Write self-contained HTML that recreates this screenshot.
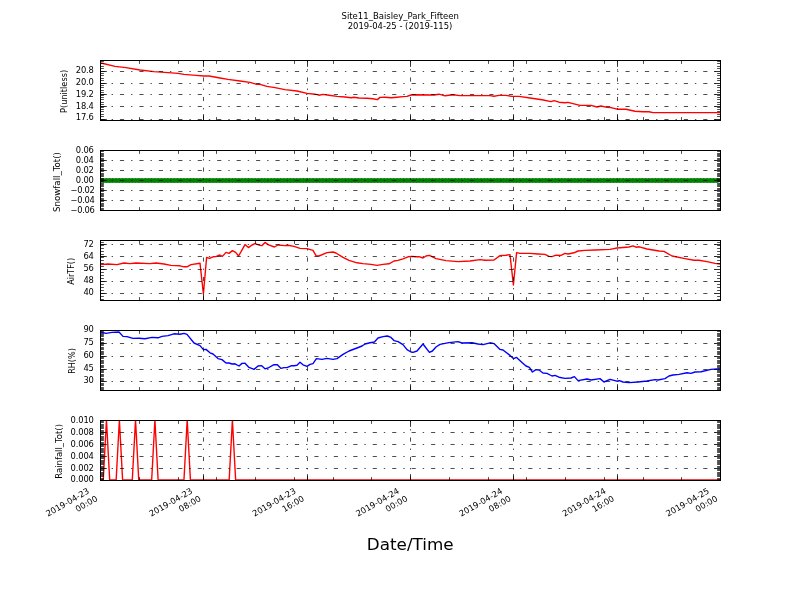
<!DOCTYPE html>
<html><head><meta charset="utf-8"><title>Site11_Baisley_Park_Fifteen</title>
<style>html,body{margin:0;padding:0;background:#fff}svg{display:block}</style></head>
<body>
<svg width="800" height="600" viewBox="0 0 800 600" font-family="'DejaVu Sans', 'Liberation Sans', sans-serif" font-size="8.33" fill="#000">
<rect width="800" height="600" fill="#fff"/>
<defs>
<clipPath id="c0"><rect x="100" y="60" width="621" height="61"/></clipPath>
<clipPath id="c1"><rect x="100" y="150" width="621" height="61"/></clipPath>
<clipPath id="c2"><rect x="100" y="240" width="621" height="61"/></clipPath>
<clipPath id="c3"><rect x="100" y="330" width="621" height="61"/></clipPath>
<clipPath id="c4"><rect x="100" y="420" width="621" height="61"/></clipPath>
</defs>
<g id="ax0">
<path d="M100.50,62.60 L101.00,63.00 L115.00,66.40 L126.00,67.60 L140.00,70.00 L154.00,71.60 L168.00,72.60 L178.00,73.40 L184.00,74.40 L196.00,75.40 L204.00,76.00 L209.00,76.00 L220.00,78.00 L228.00,79.40 L240.00,81.00 L250.00,82.40 L256.00,84.20 L260.00,84.40 L267.00,86.40 L275.00,87.60 L285.00,89.60 L297.00,91.00 L307.00,93.40 L315.00,94.20 L319.00,95.20 L323.00,94.40 L329.00,95.20 L337.00,96.40 L345.00,97.00 L351.00,97.80 L354.00,97.20 L359.00,98.00 L367.00,98.20 L373.00,98.80 L377.40,99.60 L380.00,97.40 L385.00,97.20 L391.00,97.80 L397.00,97.20 L403.00,96.60 L407.00,96.40 L411.00,95.00 L415.00,94.80 L434.00,95.00 L439.00,94.20 L445.00,95.80 L453.00,94.80 L460.00,95.60 L490.00,95.60 L494.00,96.20 L499.00,95.40 L506.00,95.40 L512.00,96.40 L519.00,96.40 L530.00,98.00 L542.00,99.80 L551.00,101.60 L554.00,100.60 L559.00,102.20 L565.00,102.80 L568.00,102.40 L580.00,105.40 L591.00,105.40 L597.00,107.00 L601.00,106.00 L607.00,107.40 L611.00,107.60 L617.00,109.20 L626.00,109.20 L635.00,111.20 L643.00,111.80 L649.00,111.80 L653.00,112.60 L720.00,112.60" fill="none" stroke="#ff0000" stroke-width="1.39" stroke-linejoin="round" clip-path="url(#c0)"/>
<path d="M100.5,71.5 H720 M100.5,83.5 H720 M100.5,94.5 H720 M100.5,106.5 H720 M100.5,119.5 H720 M203.5,120.5 V60.5 M307.5,120.5 V60.5 M410.5,120.5 V60.5 M513.5,120.5 V60.5 M617.5,120.5 V60.5" stroke="#000" stroke-width="0.694" stroke-dasharray="4.167,6.944,1.389,6.944" fill="none"/>
<path d="M100.5,71.5 h6.30 M720.5,71.5 h-6.30 M100.5,83.5 h6.30 M720.5,83.5 h-6.30 M100.5,94.5 h6.30 M720.5,94.5 h-6.30 M100.5,106.5 h6.30 M720.5,106.5 h-6.30 M100.5,119.5 h6.30 M720.5,119.5 h-6.30 M100.5,120.5 v-6.30 M100.5,60.5 v6.30 M203.5,120.5 v-6.30 M203.5,60.5 v6.30 M307.5,120.5 v-6.30 M307.5,60.5 v6.30 M410.5,120.5 v-6.30 M410.5,60.5 v6.30 M513.5,120.5 v-6.30 M513.5,60.5 v6.30 M617.5,120.5 v-6.30 M617.5,60.5 v6.30 M720.5,120.5 v-6.30 M720.5,60.5 v6.30" stroke="#000" stroke-width="0.8" fill="none"/>
<path d="M100.5,116.5 h3.40 M720.5,116.5 h-3.40 M100.5,114.5 h3.40 M720.5,114.5 h-3.40 M100.5,111.5 h3.40 M720.5,111.5 h-3.40 M100.5,109.5 h3.40 M720.5,109.5 h-3.40 M100.5,107.5 h3.40 M720.5,107.5 h-3.40 M100.5,104.5 h3.40 M720.5,104.5 h-3.40 M100.5,102.5 h3.40 M720.5,102.5 h-3.40 M100.5,99.5 h3.40 M720.5,99.5 h-3.40 M100.5,97.5 h3.40 M720.5,97.5 h-3.40 M100.5,95.5 h3.40 M720.5,95.5 h-3.40 M100.5,92.5 h3.40 M720.5,92.5 h-3.40 M100.5,90.5 h3.40 M720.5,90.5 h-3.40 M100.5,87.5 h3.40 M720.5,87.5 h-3.40 M100.5,85.5 h3.40 M720.5,85.5 h-3.40 M100.5,80.5 h3.40 M720.5,80.5 h-3.40 M100.5,78.5 h3.40 M720.5,78.5 h-3.40 M100.5,75.5 h3.40 M720.5,75.5 h-3.40 M100.5,73.5 h3.40 M720.5,73.5 h-3.40 M100.5,68.5 h3.40 M720.5,68.5 h-3.40 M100.5,66.5 h3.40 M720.5,66.5 h-3.40 M100.5,63.5 h3.40 M720.5,63.5 h-3.40 M100.5,61.5 h3.40 M720.5,61.5 h-3.40 M139.5,120.5 v-3.40 M139.5,60.5 v3.40 M178.5,120.5 v-3.40 M178.5,60.5 v3.40 M216.5,120.5 v-3.40 M216.5,60.5 v3.40 M255.5,120.5 v-3.40 M255.5,60.5 v3.40 M294.5,120.5 v-3.40 M294.5,60.5 v3.40 M333.5,120.5 v-3.40 M333.5,60.5 v3.40 M371.5,120.5 v-3.40 M371.5,60.5 v3.40 M449.5,120.5 v-3.40 M449.5,60.5 v3.40 M488.5,120.5 v-3.40 M488.5,60.5 v3.40 M526.5,120.5 v-3.40 M526.5,60.5 v3.40 M565.5,120.5 v-3.40 M565.5,60.5 v3.40 M604.5,120.5 v-3.40 M604.5,60.5 v3.40 M643.5,120.5 v-3.40 M643.5,60.5 v3.40 M681.5,120.5 v-3.40 M681.5,60.5 v3.40" stroke="#000" stroke-width="0.694" fill="none"/>
<rect x="100.5" y="60.5" width="620" height="60" fill="none" stroke="#000" stroke-width="1"/>
<text x="93.80" y="72.80" text-anchor="end" letter-spacing="-0.12">20.8</text>
<text x="93.80" y="84.80" text-anchor="end" letter-spacing="-0.12">20.0</text>
<text x="93.80" y="96.80" text-anchor="end" letter-spacing="-0.12">19.2</text>
<text x="93.80" y="108.80" text-anchor="end" letter-spacing="-0.12">18.4</text>
<text x="93.80" y="120.40" text-anchor="end" letter-spacing="-0.12">17.6</text>
<text transform="translate(67.2,91.4) rotate(-90)" text-anchor="middle" font-size="8.20">P(unitless)</text>
</g>
<g id="ax1">
<g clip-path="url(#c1)"><path d="M100,180.5 H720" stroke="#008000" stroke-width="4.86" stroke-linecap="round" stroke-dasharray="0,3.2292" fill="none"/><path d="M100,180.5 H720" stroke="#008000" stroke-width="3.6" fill="none"/></g>
<path d="M100.5,160.5 H720 M100.5,170.5 H720 M100.5,180.5 H720 M100.5,190.5 H720 M100.5,200.5 H720 M203.5,210.5 V150.5 M307.5,210.5 V150.5 M410.5,210.5 V150.5 M513.5,210.5 V150.5 M617.5,210.5 V150.5" stroke="#000" stroke-width="0.694" stroke-dasharray="4.167,6.944,1.389,6.944" fill="none"/>
<path d="M100.5,150.5 h6.30 M720.5,150.5 h-6.30 M100.5,160.5 h6.30 M720.5,160.5 h-6.30 M100.5,170.5 h6.30 M720.5,170.5 h-6.30 M100.5,180.5 h6.30 M720.5,180.5 h-6.30 M100.5,190.5 h6.30 M720.5,190.5 h-6.30 M100.5,200.5 h6.30 M720.5,200.5 h-6.30 M100.5,210.5 h6.30 M720.5,210.5 h-6.30 M100.5,210.5 v-6.30 M100.5,150.5 v6.30 M203.5,210.5 v-6.30 M203.5,150.5 v6.30 M307.5,210.5 v-6.30 M307.5,150.5 v6.30 M410.5,210.5 v-6.30 M410.5,150.5 v6.30 M513.5,210.5 v-6.30 M513.5,150.5 v6.30 M617.5,210.5 v-6.30 M617.5,150.5 v6.30 M720.5,210.5 v-6.30 M720.5,150.5 v6.30" stroke="#000" stroke-width="0.8" fill="none"/>
<path d="M100.5,209.5 h3.40 M720.5,209.5 h-3.40 M100.5,208.5 h3.40 M720.5,208.5 h-3.40 M100.5,206.5 h3.40 M720.5,206.5 h-3.40 M100.5,205.5 h3.40 M720.5,205.5 h-3.40 M100.5,204.5 h3.40 M720.5,204.5 h-3.40 M100.5,203.5 h3.40 M720.5,203.5 h-3.40 M100.5,201.5 h3.40 M720.5,201.5 h-3.40 M100.5,199.5 h3.40 M720.5,199.5 h-3.40 M100.5,198.5 h3.40 M720.5,198.5 h-3.40 M100.5,196.5 h3.40 M720.5,196.5 h-3.40 M100.5,195.5 h3.40 M720.5,195.5 h-3.40 M100.5,194.5 h3.40 M720.5,194.5 h-3.40 M100.5,193.5 h3.40 M720.5,193.5 h-3.40 M100.5,191.5 h3.40 M720.5,191.5 h-3.40 M100.5,189.5 h3.40 M720.5,189.5 h-3.40 M100.5,188.5 h3.40 M720.5,188.5 h-3.40 M100.5,186.5 h3.40 M720.5,186.5 h-3.40 M100.5,185.5 h3.40 M720.5,185.5 h-3.40 M100.5,184.5 h3.40 M720.5,184.5 h-3.40 M100.5,183.5 h3.40 M720.5,183.5 h-3.40 M100.5,181.5 h3.40 M720.5,181.5 h-3.40 M100.5,179.5 h3.40 M720.5,179.5 h-3.40 M100.5,178.5 h3.40 M720.5,178.5 h-3.40 M100.5,176.5 h3.40 M720.5,176.5 h-3.40 M100.5,175.5 h3.40 M720.5,175.5 h-3.40 M100.5,174.5 h3.40 M720.5,174.5 h-3.40 M100.5,173.5 h3.40 M720.5,173.5 h-3.40 M100.5,171.5 h3.40 M720.5,171.5 h-3.40 M100.5,169.5 h3.40 M720.5,169.5 h-3.40 M100.5,168.5 h3.40 M720.5,168.5 h-3.40 M100.5,166.5 h3.40 M720.5,166.5 h-3.40 M100.5,165.5 h3.40 M720.5,165.5 h-3.40 M100.5,164.5 h3.40 M720.5,164.5 h-3.40 M100.5,163.5 h3.40 M720.5,163.5 h-3.40 M100.5,161.5 h3.40 M720.5,161.5 h-3.40 M100.5,159.5 h3.40 M720.5,159.5 h-3.40 M100.5,158.5 h3.40 M720.5,158.5 h-3.40 M100.5,156.5 h3.40 M720.5,156.5 h-3.40 M100.5,155.5 h3.40 M720.5,155.5 h-3.40 M100.5,154.5 h3.40 M720.5,154.5 h-3.40 M100.5,153.5 h3.40 M720.5,153.5 h-3.40 M100.5,151.5 h3.40 M720.5,151.5 h-3.40 M139.5,210.5 v-3.40 M139.5,150.5 v3.40 M178.5,210.5 v-3.40 M178.5,150.5 v3.40 M216.5,210.5 v-3.40 M216.5,150.5 v3.40 M255.5,210.5 v-3.40 M255.5,150.5 v3.40 M294.5,210.5 v-3.40 M294.5,150.5 v3.40 M333.5,210.5 v-3.40 M333.5,150.5 v3.40 M371.5,210.5 v-3.40 M371.5,150.5 v3.40 M449.5,210.5 v-3.40 M449.5,150.5 v3.40 M488.5,210.5 v-3.40 M488.5,150.5 v3.40 M526.5,210.5 v-3.40 M526.5,150.5 v3.40 M565.5,210.5 v-3.40 M565.5,150.5 v3.40 M604.5,210.5 v-3.40 M604.5,150.5 v3.40 M643.5,210.5 v-3.40 M643.5,150.5 v3.40 M681.5,210.5 v-3.40 M681.5,150.5 v3.40" stroke="#000" stroke-width="0.694" fill="none"/>
<rect x="100.5" y="150.5" width="620" height="60" fill="none" stroke="#000" stroke-width="1"/>
<text x="93.80" y="152.90" text-anchor="end" letter-spacing="-0.12">0.06</text>
<text x="93.80" y="162.90" text-anchor="end" letter-spacing="-0.12">0.04</text>
<text x="93.80" y="172.90" text-anchor="end" letter-spacing="-0.12">0.02</text>
<text x="93.80" y="182.90" text-anchor="end" letter-spacing="-0.12">0.00</text>
<text x="94.60" y="192.90" text-anchor="end" letter-spacing="-0.3">−0.02</text>
<text x="94.60" y="202.90" text-anchor="end" letter-spacing="-0.3">−0.04</text>
<text x="94.60" y="212.90" text-anchor="end" letter-spacing="-0.3">−0.06</text>
<text transform="translate(60.2,182.0) rotate(-90)" text-anchor="middle" font-size="8.65">Snowfall_Tot()</text>
</g>
<g id="ax2">
<path d="M100.50,264.60 L108.00,264.00 L117.00,264.60 L124.00,263.00 L130.00,263.60 L136.00,263.00 L150.00,263.60 L156.00,263.00 L164.00,264.00 L171.00,265.40 L180.00,265.80 L184.00,266.80 L187.00,266.80 L191.00,264.60 L200.00,263.20 L203.40,294.00 L206.60,257.40 L209.60,258.40 L213.00,256.80 L216.00,256.60 L219.60,255.00 L222.40,256.40 L226.00,252.40 L229.00,253.40 L232.40,250.60 L235.60,252.40 L238.60,256.00 L245.00,244.60 L248.40,247.60 L252.00,245.00 L255.00,243.60 L260.00,245.40 L262.00,245.60 L265.00,242.40 L268.00,244.60 L274.40,247.00 L278.00,245.00 L285.00,245.60 L288.00,245.20 L294.00,246.40 L300.00,248.40 L307.00,248.60 L313.00,250.40 L316.00,255.60 L319.00,256.00 L327.00,252.60 L333.00,252.00 L336.00,253.00 L343.00,257.40 L349.00,260.40 L357.00,262.80 L363.00,263.60 L371.00,264.40 L377.00,265.40 L383.00,264.40 L389.00,263.80 L394.00,261.00 L398.00,260.40 L403.00,258.80 L408.00,256.80 L412.00,256.40 L415.00,256.80 L419.00,256.60 L423.00,258.00 L426.00,256.00 L429.40,255.40 L436.00,258.60 L446.00,260.60 L458.00,261.60 L470.00,261.00 L480.00,259.60 L485.00,260.20 L494.00,260.00 L500.00,255.60 L506.00,255.20 L510.00,254.60 L513.40,285.00 L516.60,252.60 L520.00,253.40 L530.00,253.40 L538.00,254.00 L545.00,254.40 L549.00,256.40 L552.00,256.60 L556.00,255.20 L561.00,255.40 L565.00,253.40 L568.00,254.00 L574.00,252.80 L578.00,251.00 L585.00,250.40 L595.00,250.00 L610.00,249.40 L617.00,248.00 L629.00,247.00 L633.00,245.80 L636.00,247.20 L639.40,246.80 L647.00,249.00 L659.00,251.00 L664.00,251.40 L672.00,256.00 L685.00,258.60 L694.00,260.20 L699.00,260.20 L707.00,261.60 L715.00,263.40 L720.00,264.00" fill="none" stroke="#ff0000" stroke-width="1.39" stroke-linejoin="round" clip-path="url(#c2)"/>
<path d="M100.5,244.5 H720 M100.5,256.5 H720 M100.5,269.5 H720 M100.5,281.5 H720 M100.5,293.5 H720 M203.5,300.5 V240.5 M307.5,300.5 V240.5 M410.5,300.5 V240.5 M513.5,300.5 V240.5 M617.5,300.5 V240.5" stroke="#000" stroke-width="0.694" stroke-dasharray="4.167,6.944,1.389,6.944" fill="none"/>
<path d="M100.5,244.5 h6.30 M720.5,244.5 h-6.30 M100.5,256.5 h6.30 M720.5,256.5 h-6.30 M100.5,269.5 h6.30 M720.5,269.5 h-6.30 M100.5,281.5 h6.30 M720.5,281.5 h-6.30 M100.5,293.5 h6.30 M720.5,293.5 h-6.30 M100.5,300.5 v-6.30 M100.5,240.5 v6.30 M203.5,300.5 v-6.30 M203.5,240.5 v6.30 M307.5,300.5 v-6.30 M307.5,240.5 v6.30 M410.5,300.5 v-6.30 M410.5,240.5 v6.30 M513.5,300.5 v-6.30 M513.5,240.5 v6.30 M617.5,300.5 v-6.30 M617.5,240.5 v6.30 M720.5,300.5 v-6.30 M720.5,240.5 v6.30" stroke="#000" stroke-width="0.8" fill="none"/>
<path d="M100.5,299.5 h3.40 M720.5,299.5 h-3.40 M100.5,296.5 h3.40 M720.5,296.5 h-3.40 M100.5,290.5 h3.40 M720.5,290.5 h-3.40 M100.5,287.5 h3.40 M720.5,287.5 h-3.40 M100.5,284.5 h3.40 M720.5,284.5 h-3.40 M100.5,278.5 h3.40 M720.5,278.5 h-3.40 M100.5,275.5 h3.40 M720.5,275.5 h-3.40 M100.5,272.5 h3.40 M720.5,272.5 h-3.40 M100.5,266.5 h3.40 M720.5,266.5 h-3.40 M100.5,263.5 h3.40 M720.5,263.5 h-3.40 M100.5,260.5 h3.40 M720.5,260.5 h-3.40 M100.5,257.5 h3.40 M720.5,257.5 h-3.40 M100.5,254.5 h3.40 M720.5,254.5 h-3.40 M100.5,251.5 h3.40 M720.5,251.5 h-3.40 M100.5,248.5 h3.40 M720.5,248.5 h-3.40 M100.5,245.5 h3.40 M720.5,245.5 h-3.40 M100.5,242.5 h3.40 M720.5,242.5 h-3.40 M139.5,300.5 v-3.40 M139.5,240.5 v3.40 M178.5,300.5 v-3.40 M178.5,240.5 v3.40 M216.5,300.5 v-3.40 M216.5,240.5 v3.40 M255.5,300.5 v-3.40 M255.5,240.5 v3.40 M294.5,300.5 v-3.40 M294.5,240.5 v3.40 M333.5,300.5 v-3.40 M333.5,240.5 v3.40 M371.5,300.5 v-3.40 M371.5,240.5 v3.40 M449.5,300.5 v-3.40 M449.5,240.5 v3.40 M488.5,300.5 v-3.40 M488.5,240.5 v3.40 M526.5,300.5 v-3.40 M526.5,240.5 v3.40 M565.5,300.5 v-3.40 M565.5,240.5 v3.40 M604.5,300.5 v-3.40 M604.5,240.5 v3.40 M643.5,300.5 v-3.40 M643.5,240.5 v3.40 M681.5,300.5 v-3.40 M681.5,240.5 v3.40" stroke="#000" stroke-width="0.694" fill="none"/>
<rect x="100.5" y="240.5" width="620" height="60" fill="none" stroke="#000" stroke-width="1"/>
<text x="93.80" y="246.90" text-anchor="end" letter-spacing="-0.12">72</text>
<text x="93.80" y="258.90" text-anchor="end" letter-spacing="-0.12">64</text>
<text x="93.80" y="270.90" text-anchor="end" letter-spacing="-0.12">56</text>
<text x="93.80" y="282.90" text-anchor="end" letter-spacing="-0.12">48</text>
<text x="93.80" y="294.90" text-anchor="end" letter-spacing="-0.12">40</text>
<text transform="translate(74.3,271.4) rotate(-90)" text-anchor="middle" font-size="8.05">AirTF()</text>
</g>
<g id="ax3">
<path d="M100.50,332.00 L106.00,333.40 L112.00,332.40 L119.00,332.00 L123.00,336.40 L127.00,336.60 L133.00,338.40 L139.00,338.20 L145.00,338.80 L152.00,337.40 L158.00,337.80 L162.00,336.40 L168.00,335.60 L174.00,333.80 L180.00,334.20 L184.00,333.40 L187.00,334.40 L194.00,343.00 L200.00,345.60 L203.40,349.60 L206.00,349.40 L210.00,352.80 L213.00,354.00 L218.00,358.60 L222.00,359.60 L226.00,363.00 L229.00,363.00 L232.00,364.00 L235.00,363.80 L239.00,366.00 L242.00,363.40 L245.00,363.20 L249.00,367.40 L254.00,369.40 L258.00,366.00 L261.40,365.60 L265.00,368.80 L268.00,368.00 L274.00,364.60 L277.40,364.80 L281.00,368.40 L284.00,367.60 L287.00,367.60 L291.00,365.80 L294.00,365.80 L297.00,365.20 L300.00,362.20 L303.00,364.80 L307.00,366.40 L310.00,364.40 L313.00,363.60 L316.40,358.60 L322.00,359.40 L327.00,358.40 L333.00,359.40 L337.00,358.60 L343.00,354.40 L349.00,351.00 L357.00,348.00 L362.00,346.00 L365.00,344.00 L370.00,342.80 L374.40,342.00 L378.00,338.00 L383.00,336.60 L387.40,336.00 L391.00,337.40 L394.00,340.60 L398.00,341.60 L403.00,344.60 L407.00,349.60 L411.00,352.00 L413.00,352.40 L417.00,351.00 L423.00,344.00 L429.40,352.40 L432.40,351.00 L436.00,347.00 L440.00,344.40 L449.00,342.60 L458.00,341.60 L462.00,343.00 L472.00,342.80 L478.00,344.00 L483.00,344.60 L490.00,342.80 L494.00,343.60 L500.00,349.40 L503.00,350.00 L510.00,355.40 L513.40,358.60 L516.60,357.40 L522.00,362.40 L526.00,366.00 L529.40,367.40 L532.40,372.00 L536.00,369.60 L539.00,370.00 L543.00,373.00 L547.00,373.40 L552.00,376.00 L555.00,375.40 L559.00,377.20 L565.00,378.40 L571.00,378.00 L574.40,376.60 L578.00,380.60 L587.00,379.00 L591.00,380.00 L600.00,378.60 L604.00,382.00 L610.00,379.40 L617.00,381.20 L619.40,380.60 L623.00,382.00 L629.00,382.60 L638.00,382.00 L647.00,381.00 L655.00,379.60 L658.00,380.00 L665.00,378.60 L669.00,376.00 L673.00,375.00 L679.00,374.40 L687.00,372.80 L691.00,373.40 L695.00,372.00 L701.00,371.80 L711.00,369.40 L720.00,368.80" fill="none" stroke="#0000ff" stroke-width="1.39" stroke-linejoin="round" clip-path="url(#c3)"/>
<path d="M100.5,343.5 H720 M100.5,356.5 H720 M100.5,369.5 H720 M100.5,381.5 H720 M203.5,390.5 V330.5 M307.5,390.5 V330.5 M410.5,390.5 V330.5 M513.5,390.5 V330.5 M617.5,390.5 V330.5" stroke="#000" stroke-width="0.694" stroke-dasharray="4.167,6.944,1.389,6.944" fill="none"/>
<path d="M100.5,330.5 h6.30 M720.5,330.5 h-6.30 M100.5,343.5 h6.30 M720.5,343.5 h-6.30 M100.5,356.5 h6.30 M720.5,356.5 h-6.30 M100.5,369.5 h6.30 M720.5,369.5 h-6.30 M100.5,381.5 h6.30 M720.5,381.5 h-6.30 M100.5,390.5 v-6.30 M100.5,330.5 v6.30 M203.5,390.5 v-6.30 M203.5,330.5 v6.30 M307.5,390.5 v-6.30 M307.5,330.5 v6.30 M410.5,390.5 v-6.30 M410.5,330.5 v6.30 M513.5,390.5 v-6.30 M513.5,330.5 v6.30 M617.5,390.5 v-6.30 M617.5,330.5 v6.30 M720.5,390.5 v-6.30 M720.5,330.5 v6.30" stroke="#000" stroke-width="0.8" fill="none"/>
<path d="M100.5,389.5 h3.40 M720.5,389.5 h-3.40 M100.5,388.5 h3.40 M720.5,388.5 h-3.40 M100.5,387.5 h3.40 M720.5,387.5 h-3.40 M100.5,385.5 h3.40 M720.5,385.5 h-3.40 M100.5,384.5 h3.40 M720.5,384.5 h-3.40 M100.5,383.5 h3.40 M720.5,383.5 h-3.40 M100.5,380.5 h3.40 M720.5,380.5 h-3.40 M100.5,379.5 h3.40 M720.5,379.5 h-3.40 M100.5,378.5 h3.40 M720.5,378.5 h-3.40 M100.5,376.5 h3.40 M720.5,376.5 h-3.40 M100.5,375.5 h3.40 M720.5,375.5 h-3.40 M100.5,374.5 h3.40 M720.5,374.5 h-3.40 M100.5,372.5 h3.40 M720.5,372.5 h-3.40 M100.5,371.5 h3.40 M720.5,371.5 h-3.40 M100.5,370.5 h3.40 M720.5,370.5 h-3.40 M100.5,367.5 h3.40 M720.5,367.5 h-3.40 M100.5,366.5 h3.40 M720.5,366.5 h-3.40 M100.5,365.5 h3.40 M720.5,365.5 h-3.40 M100.5,363.5 h3.40 M720.5,363.5 h-3.40 M100.5,362.5 h3.40 M720.5,362.5 h-3.40 M100.5,361.5 h3.40 M720.5,361.5 h-3.40 M100.5,360.5 h3.40 M720.5,360.5 h-3.40 M100.5,358.5 h3.40 M720.5,358.5 h-3.40 M100.5,357.5 h3.40 M720.5,357.5 h-3.40 M100.5,354.5 h3.40 M720.5,354.5 h-3.40 M100.5,353.5 h3.40 M720.5,353.5 h-3.40 M100.5,352.5 h3.40 M720.5,352.5 h-3.40 M100.5,351.5 h3.40 M720.5,351.5 h-3.40 M100.5,349.5 h3.40 M720.5,349.5 h-3.40 M100.5,348.5 h3.40 M720.5,348.5 h-3.40 M100.5,347.5 h3.40 M720.5,347.5 h-3.40 M100.5,345.5 h3.40 M720.5,345.5 h-3.40 M100.5,344.5 h3.40 M720.5,344.5 h-3.40 M100.5,342.5 h3.40 M720.5,342.5 h-3.40 M100.5,340.5 h3.40 M720.5,340.5 h-3.40 M100.5,339.5 h3.40 M720.5,339.5 h-3.40 M100.5,338.5 h3.40 M720.5,338.5 h-3.40 M100.5,336.5 h3.40 M720.5,336.5 h-3.40 M100.5,335.5 h3.40 M720.5,335.5 h-3.40 M100.5,334.5 h3.40 M720.5,334.5 h-3.40 M100.5,333.5 h3.40 M720.5,333.5 h-3.40 M100.5,331.5 h3.40 M720.5,331.5 h-3.40 M139.5,390.5 v-3.40 M139.5,330.5 v3.40 M178.5,390.5 v-3.40 M178.5,330.5 v3.40 M216.5,390.5 v-3.40 M216.5,330.5 v3.40 M255.5,390.5 v-3.40 M255.5,330.5 v3.40 M294.5,390.5 v-3.40 M294.5,330.5 v3.40 M333.5,390.5 v-3.40 M333.5,330.5 v3.40 M371.5,390.5 v-3.40 M371.5,330.5 v3.40 M449.5,390.5 v-3.40 M449.5,330.5 v3.40 M488.5,390.5 v-3.40 M488.5,330.5 v3.40 M526.5,390.5 v-3.40 M526.5,330.5 v3.40 M565.5,390.5 v-3.40 M565.5,330.5 v3.40 M604.5,390.5 v-3.40 M604.5,330.5 v3.40 M643.5,390.5 v-3.40 M643.5,330.5 v3.40 M681.5,390.5 v-3.40 M681.5,330.5 v3.40" stroke="#000" stroke-width="0.694" fill="none"/>
<rect x="100.5" y="330.5" width="620" height="60" fill="none" stroke="#000" stroke-width="1"/>
<text x="93.80" y="331.90" text-anchor="end" letter-spacing="-0.12">90</text>
<text x="93.80" y="344.70" text-anchor="end" letter-spacing="-0.12">75</text>
<text x="93.80" y="357.50" text-anchor="end" letter-spacing="-0.12">60</text>
<text x="93.80" y="370.50" text-anchor="end" letter-spacing="-0.12">45</text>
<text x="93.80" y="383.30" text-anchor="end" letter-spacing="-0.12">30</text>
<text transform="translate(75.3,361.0) rotate(-90)" text-anchor="middle" font-size="8.10">RH(%)</text>
</g>
<g id="ax4">
<path d="M100.00,480.00 L103.23,480.00 L106.46,420.00 L109.69,480.00 L112.92,480.00 L116.15,480.00 L119.38,420.00 L122.60,480.00 L125.83,480.00 L129.06,480.00 L132.29,480.00 L135.52,420.00 L138.75,480.00 L141.98,480.00 L145.21,480.00 L148.44,480.00 L151.67,480.00 L154.90,420.00 L158.12,480.00 L161.35,480.00 L164.58,480.00 L167.81,480.00 L171.04,480.00 L174.27,480.00 L177.50,480.00 L180.73,480.00 L183.96,480.00 L187.19,420.00 L190.42,480.00 L193.65,480.00 L196.88,480.00 L200.10,480.00 L203.33,480.00 L206.56,480.00 L209.79,480.00 L213.02,480.00 L216.25,480.00 L219.48,480.00 L222.71,480.00 L225.94,480.00 L229.17,480.00 L232.40,420.00 L235.62,480.00 L238.85,480.00 L242.08,480.00 L245.31,480.00 L248.54,480.00 L251.77,480.00 L255.00,480.00 L258.23,480.00 L261.46,480.00 L264.69,480.00 L267.92,480.00 L271.15,480.00 L274.38,480.00 L277.60,480.00 L280.83,480.00 L284.06,480.00 L287.29,480.00 L290.52,480.00 L293.75,480.00 L296.98,480.00 L300.21,480.00 L303.44,480.00 L306.67,480.00 L309.90,480.00 L313.12,480.00 L316.35,480.00 L319.58,480.00 L322.81,480.00 L326.04,480.00 L329.27,480.00 L332.50,480.00 L335.73,480.00 L338.96,480.00 L342.19,480.00 L345.42,480.00 L348.65,480.00 L351.88,480.00 L355.10,480.00 L358.33,480.00 L361.56,480.00 L364.79,480.00 L368.02,480.00 L371.25,480.00 L374.48,480.00 L377.71,480.00 L380.94,480.00 L384.17,480.00 L387.40,480.00 L390.62,480.00 L393.85,480.00 L397.08,480.00 L400.31,480.00 L403.54,480.00 L406.77,480.00 L410.00,480.00 L413.23,480.00 L416.46,480.00 L419.69,480.00 L422.92,480.00 L426.15,480.00 L429.38,480.00 L432.60,480.00 L435.83,480.00 L439.06,480.00 L442.29,480.00 L445.52,480.00 L448.75,480.00 L451.98,480.00 L455.21,480.00 L458.44,480.00 L461.67,480.00 L464.90,480.00 L468.12,480.00 L471.35,480.00 L474.58,480.00 L477.81,480.00 L481.04,480.00 L484.27,480.00 L487.50,480.00 L490.73,480.00 L493.96,480.00 L497.19,480.00 L500.42,480.00 L503.65,480.00 L506.88,480.00 L510.10,480.00 L513.33,480.00 L516.56,480.00 L519.79,480.00 L523.02,480.00 L526.25,480.00 L529.48,480.00 L532.71,480.00 L535.94,480.00 L539.17,480.00 L542.40,480.00 L545.62,480.00 L548.85,480.00 L552.08,480.00 L555.31,480.00 L558.54,480.00 L561.77,480.00 L565.00,480.00 L568.23,480.00 L571.46,480.00 L574.69,480.00 L577.92,480.00 L581.15,480.00 L584.38,480.00 L587.60,480.00 L590.83,480.00 L594.06,480.00 L597.29,480.00 L600.52,480.00 L603.75,480.00 L606.98,480.00 L610.21,480.00 L613.44,480.00 L616.67,480.00 L619.90,480.00 L623.12,480.00 L626.35,480.00 L629.58,480.00 L632.81,480.00 L636.04,480.00 L639.27,480.00 L642.50,480.00 L645.73,480.00 L648.96,480.00 L652.19,480.00 L655.42,480.00 L658.65,480.00 L661.88,480.00 L665.10,480.00 L668.33,480.00 L671.56,480.00 L674.79,480.00 L678.02,480.00 L681.25,480.00 L684.48,480.00 L687.71,480.00 L690.94,480.00 L694.17,480.00 L697.40,480.00 L700.62,480.00 L703.85,480.00 L707.08,480.00 L710.31,480.00 L713.54,480.00 L716.77,480.00 L720.00,480.00" fill="none" stroke="#ff0000" stroke-width="1.39" stroke-linejoin="round" clip-path="url(#c4)"/>
<path d="M100.5,432.5 H720 M100.5,444.5 H720 M100.5,456.5 H720 M100.5,468.5 H720 M203.5,480.5 V420.5 M307.5,480.5 V420.5 M410.5,480.5 V420.5 M513.5,480.5 V420.5 M617.5,480.5 V420.5" stroke="#000" stroke-width="0.694" stroke-dasharray="4.167,6.944,1.389,6.944" fill="none"/>
<path d="M100.5,420.5 h6.30 M720.5,420.5 h-6.30 M100.5,432.5 h6.30 M720.5,432.5 h-6.30 M100.5,444.5 h6.30 M720.5,444.5 h-6.30 M100.5,456.5 h6.30 M720.5,456.5 h-6.30 M100.5,468.5 h6.30 M720.5,468.5 h-6.30 M100.5,480.5 h6.30 M720.5,480.5 h-6.30 M100.5,480.5 v-6.30 M100.5,420.5 v6.30 M203.5,480.5 v-6.30 M203.5,420.5 v6.30 M307.5,480.5 v-6.30 M307.5,420.5 v6.30 M410.5,480.5 v-6.30 M410.5,420.5 v6.30 M513.5,480.5 v-6.30 M513.5,420.5 v6.30 M617.5,480.5 v-6.30 M617.5,420.5 v6.30 M720.5,480.5 v-6.30 M720.5,420.5 v6.30" stroke="#000" stroke-width="0.8" fill="none"/>
<path d="M100.5,479.5 h3.40 M720.5,479.5 h-3.40 M100.5,478.5 h3.40 M720.5,478.5 h-3.40 M100.5,476.5 h3.40 M720.5,476.5 h-3.40 M100.5,475.5 h3.40 M720.5,475.5 h-3.40 M100.5,474.5 h3.40 M720.5,474.5 h-3.40 M100.5,473.5 h3.40 M720.5,473.5 h-3.40 M100.5,472.5 h3.40 M720.5,472.5 h-3.40 M100.5,470.5 h3.40 M720.5,470.5 h-3.40 M100.5,469.5 h3.40 M720.5,469.5 h-3.40 M100.5,467.5 h3.40 M720.5,467.5 h-3.40 M100.5,466.5 h3.40 M720.5,466.5 h-3.40 M100.5,464.5 h3.40 M720.5,464.5 h-3.40 M100.5,463.5 h3.40 M720.5,463.5 h-3.40 M100.5,462.5 h3.40 M720.5,462.5 h-3.40 M100.5,461.5 h3.40 M720.5,461.5 h-3.40 M100.5,460.5 h3.40 M720.5,460.5 h-3.40 M100.5,458.5 h3.40 M720.5,458.5 h-3.40 M100.5,457.5 h3.40 M720.5,457.5 h-3.40 M100.5,455.5 h3.40 M720.5,455.5 h-3.40 M100.5,454.5 h3.40 M720.5,454.5 h-3.40 M100.5,452.5 h3.40 M720.5,452.5 h-3.40 M100.5,451.5 h3.40 M720.5,451.5 h-3.40 M100.5,450.5 h3.40 M720.5,450.5 h-3.40 M100.5,449.5 h3.40 M720.5,449.5 h-3.40 M100.5,448.5 h3.40 M720.5,448.5 h-3.40 M100.5,446.5 h3.40 M720.5,446.5 h-3.40 M100.5,445.5 h3.40 M720.5,445.5 h-3.40 M100.5,443.5 h3.40 M720.5,443.5 h-3.40 M100.5,442.5 h3.40 M720.5,442.5 h-3.40 M100.5,440.5 h3.40 M720.5,440.5 h-3.40 M100.5,439.5 h3.40 M720.5,439.5 h-3.40 M100.5,438.5 h3.40 M720.5,438.5 h-3.40 M100.5,437.5 h3.40 M720.5,437.5 h-3.40 M100.5,436.5 h3.40 M720.5,436.5 h-3.40 M100.5,434.5 h3.40 M720.5,434.5 h-3.40 M100.5,433.5 h3.40 M720.5,433.5 h-3.40 M100.5,431.5 h3.40 M720.5,431.5 h-3.40 M100.5,430.5 h3.40 M720.5,430.5 h-3.40 M100.5,428.5 h3.40 M720.5,428.5 h-3.40 M100.5,427.5 h3.40 M720.5,427.5 h-3.40 M100.5,426.5 h3.40 M720.5,426.5 h-3.40 M100.5,425.5 h3.40 M720.5,425.5 h-3.40 M100.5,424.5 h3.40 M720.5,424.5 h-3.40 M100.5,422.5 h3.40 M720.5,422.5 h-3.40 M100.5,421.5 h3.40 M720.5,421.5 h-3.40 M139.5,480.5 v-3.40 M139.5,420.5 v3.40 M178.5,480.5 v-3.40 M178.5,420.5 v3.40 M216.5,480.5 v-3.40 M216.5,420.5 v3.40 M255.5,480.5 v-3.40 M255.5,420.5 v3.40 M294.5,480.5 v-3.40 M294.5,420.5 v3.40 M333.5,480.5 v-3.40 M333.5,420.5 v3.40 M371.5,480.5 v-3.40 M371.5,420.5 v3.40 M449.5,480.5 v-3.40 M449.5,420.5 v3.40 M488.5,480.5 v-3.40 M488.5,420.5 v3.40 M526.5,480.5 v-3.40 M526.5,420.5 v3.40 M565.5,480.5 v-3.40 M565.5,420.5 v3.40 M604.5,480.5 v-3.40 M604.5,420.5 v3.40 M643.5,480.5 v-3.40 M643.5,420.5 v3.40 M681.5,480.5 v-3.40 M681.5,420.5 v3.40" stroke="#000" stroke-width="0.694" fill="none"/>
<rect x="100.5" y="420.5" width="620" height="60" fill="none" stroke="#000" stroke-width="1"/>
<text x="93.80" y="422.70" text-anchor="end" letter-spacing="-0.12">0.010</text>
<text x="93.80" y="434.80" text-anchor="end" letter-spacing="-0.12">0.008</text>
<text x="93.80" y="446.80" text-anchor="end" letter-spacing="-0.12">0.006</text>
<text x="93.80" y="458.90" text-anchor="end" letter-spacing="-0.12">0.004</text>
<text x="93.80" y="470.80" text-anchor="end" letter-spacing="-0.12">0.002</text>
<text x="93.80" y="481.80" text-anchor="end" letter-spacing="-0.12">0.000</text>
<text transform="translate(62.0,451.4) rotate(-90)" text-anchor="middle" font-size="8.50">Rainfall_Tot()</text>
</g>
<g transform="translate(90.00,485.85) rotate(-30)"><text x="-3.5" y="5.8" text-anchor="end">2019-04-23</text><text x="0" y="16.6" text-anchor="end">00:00</text></g>
<g transform="translate(193.33,485.85) rotate(-30)"><text x="-3.5" y="5.8" text-anchor="end">2019-04-23</text><text x="0" y="16.6" text-anchor="end">08:00</text></g>
<g transform="translate(296.67,485.85) rotate(-30)"><text x="-3.5" y="5.8" text-anchor="end">2019-04-23</text><text x="0" y="16.6" text-anchor="end">16:00</text></g>
<g transform="translate(400.00,485.85) rotate(-30)"><text x="-3.5" y="5.8" text-anchor="end">2019-04-24</text><text x="0" y="16.6" text-anchor="end">00:00</text></g>
<g transform="translate(503.33,485.85) rotate(-30)"><text x="-3.5" y="5.8" text-anchor="end">2019-04-24</text><text x="0" y="16.6" text-anchor="end">08:00</text></g>
<g transform="translate(606.67,485.85) rotate(-30)"><text x="-3.5" y="5.8" text-anchor="end">2019-04-24</text><text x="0" y="16.6" text-anchor="end">16:00</text></g>
<g transform="translate(710.00,485.85) rotate(-30)"><text x="-3.5" y="5.8" text-anchor="end">2019-04-25</text><text x="0" y="16.6" text-anchor="end">00:00</text></g>
<text x="400.2" y="19" text-anchor="middle" font-size="8.5">Site11_Baisley_Park_Fifteen</text>
<text x="400" y="28.6" text-anchor="middle" font-size="8.45">2019-04-25 - (2019-115)</text>
<text x="410.2" y="549.6" text-anchor="middle" font-size="16.7" textLength="86.9" lengthAdjust="spacingAndGlyphs">Date/Time</text>
</svg>
</body></html>
